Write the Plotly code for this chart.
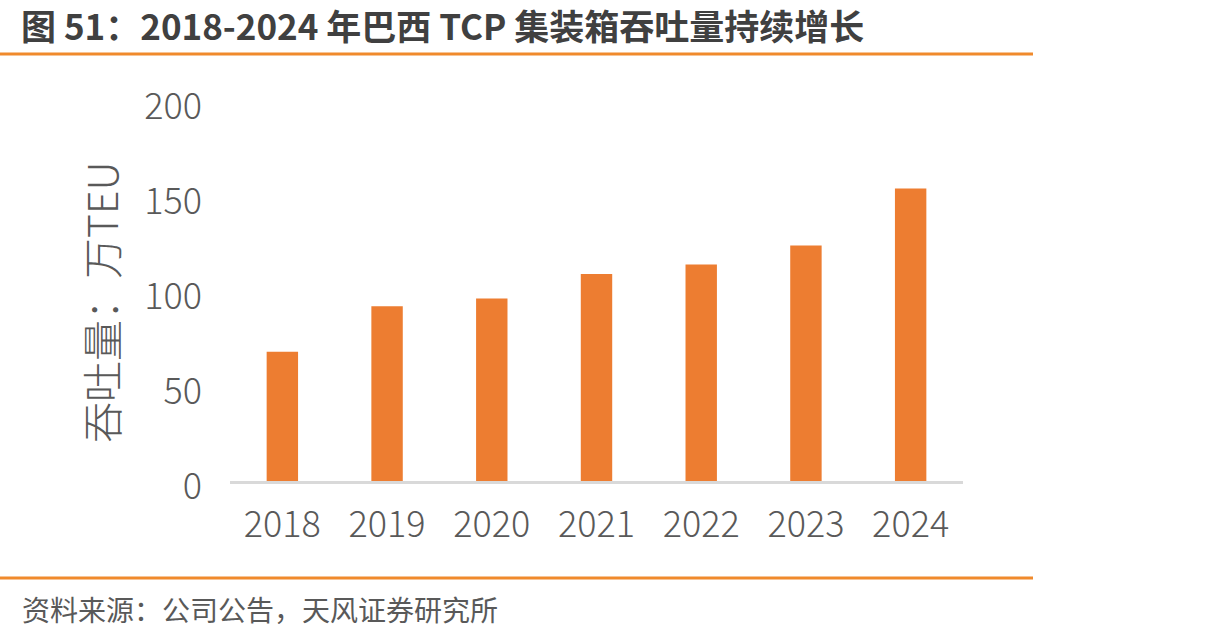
import plotly.graph_objects as go

years = ["2018", "2019", "2020", "2021", "2022", "2023", "2024"]
throughput = [68, 92, 96, 109, 114, 124, 154]
y_ticks = [0, 50, 100, 150, 200]

W, H = 1223, 642
def px(x): return x / W
def py(y): return 1 - y / H

GREY = "#595959"
ORANGE = "#F08A2C"
FONT = "Noto Sans CJK SC"

fig = go.Figure()
fig.add_trace(go.Bar(x=years, y=throughput, marker=dict(color="#ED7D31", line=dict(width=0)),
                     width=0.3))

fig.update_layout(
    width=W, height=H,
    margin=dict(l=0, r=0, t=0, b=0, pad=0, autoexpand=False),
    paper_bgcolor="white", plot_bgcolor="white",
    showlegend=False,
    font=dict(family=FONT, color=GREY),
    xaxis=dict(domain=[px(230), px(963)], showline=True, linecolor="#D9D9D9", linewidth=3,
               showgrid=False, ticks="", tickfont=dict(size=36, color=GREY, family=FONT, weight=300),
               ticklabelstandoff=10, zeroline=False, automargin=False),
    yaxis=dict(domain=[py(481), py(101)], range=[0, 200], tickvals=y_ticks,
               showgrid=False, zeroline=False, showline=False, ticks="",
               tickfont=dict(size=36, color=GREY, family=FONT, weight=300),
               ticklabelstandoff=27, ticklabelshift=5, automargin=False),
    annotations=[
        dict(text="图 51：2018-2024 年巴西 TCP 集装箱吞吐量持续增长", x=px(20), y=py(25),
             xref="paper", yref="paper", xanchor="left", yanchor="middle", showarrow=False,
             borderpad=0,
             font=dict(size=35, color="#404040", family=FONT, weight="bold")),
        dict(text="资料来源：公司公告，天风证券研究所", x=px(20), y=py(609),
             xref="paper", yref="paper", xanchor="left", yanchor="middle", showarrow=False,
             font=dict(size=28, color=GREY, family=FONT)),
        dict(text="吞吐量：万TEU", x=px(100), y=py(303), textangle=-90,
             xref="paper", yref="paper", xanchor="center", yanchor="middle", showarrow=False,
             font=dict(size=41, color=GREY, family=FONT, weight=300)),
    ],
    shapes=[
        dict(type="line", xref="paper", yref="paper", x0=0, x1=px(1033), y0=py(54), y1=py(54),
             line=dict(color=ORANGE, width=3)),
        dict(type="line", xref="paper", yref="paper", x0=0, x1=px(1033), y0=py(578), y1=py(578),
             line=dict(color=ORANGE, width=3)),
    ],
)

fig.write_html("out.html")
